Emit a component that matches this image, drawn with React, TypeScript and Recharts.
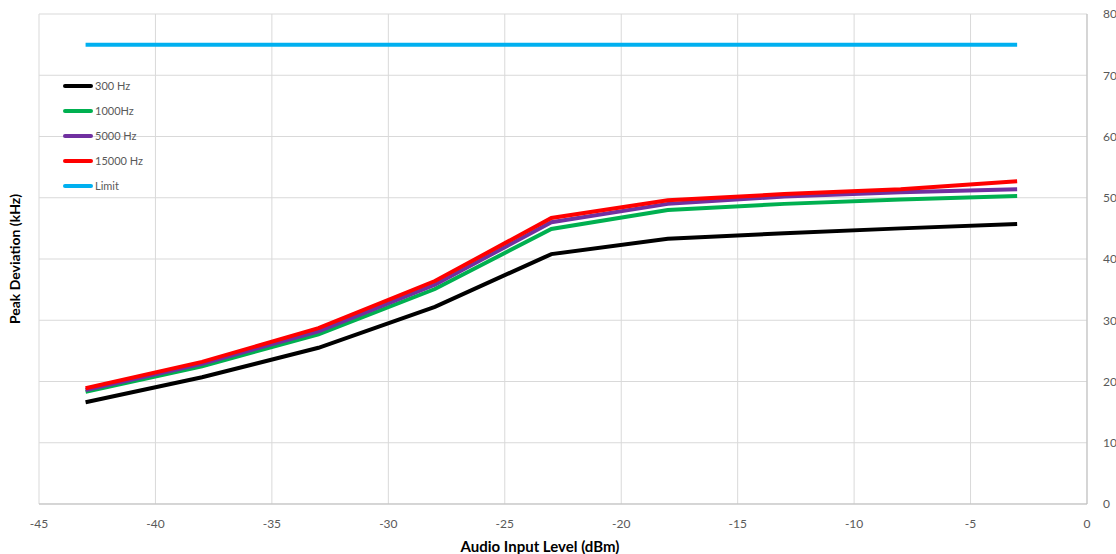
import React from "react";
import { CartesianGrid, Line, LineChart, XAxis, YAxis } from "recharts";

const levels = [-43, -38, -33, -28, -23, -18, -13, -8, -3];
const hz300 = [16.6, 20.7, 25.5, 32.2, 40.8, 43.3, 44.2, 45.0, 45.7];
const hz1000 = [18.3, 22.5, 27.7, 35.1, 44.9, 48.0, 49.0, 49.7, 50.3];
const hz5000 = [18.6, 22.9, 28.2, 35.8, 46.0, 49.0, 50.2, 50.9, 51.4];
const hz15000 = [18.9, 23.2, 28.7, 36.4, 46.7, 49.6, 50.6, 51.4, 52.7];
const limit = [75, 75, 75, 75, 75, 75, 75, 75, 75];

const xTicks = [-45, -40, -35, -30, -25, -20, -15, -10, -5, 0];
const yTicks = [0, 10, 20, 30, 40, 50, 60, 70, 80];

const series = [
	{ key: "hz300", name: "300 Hz", color: "#000000" },
	{ key: "hz1000", name: "1000Hz", color: "#00B050" },
	{ key: "hz5000", name: "5000 Hz", color: "#7030A0" },
	{ key: "hz15000", name: "15000 Hz", color: "#FF0000" },
	{ key: "limit", name: "Limit", color: "#00B0F0" },
];

const chartData = levels.map((x, i) => ({
	x,
	hz300: hz300[i],
	hz1000: hz1000[i],
	hz5000: hz5000[i],
	hz15000: hz15000[i],
	limit: limit[i],
}));

const FONT = "Lato, 'Open Sans', sans-serif";

function LegendBox() {
	return (
		<div
			style={{
				position: "absolute",
				left: 63,
				top: 73,
				fontFamily: FONT,
				fontSize: 11,
				color: "#595959",
			}}
		>
			{series.map((s) => (
				<div
					key={s.key}
					style={{ display: "flex", alignItems: "center", height: 25 }}
				>
					<span
						style={{
							display: "inline-block",
							width: 30,
							height: 4,
							borderRadius: 2,
							background: s.color,
							marginRight: 2,
						}}
					/>
					<span>{s.name}</span>
				</div>
			))}
		</div>
	);
}

export default function App() {
	return (
		<div style={{ position: "absolute", left: 0, top: 0, background: "#fff" }}>
			<LineChart
				width={1116}
				height={554}
				data={chartData}
				margin={{ top: 14, right: 0, left: 0, bottom: 0 }}
			>
				<CartesianGrid stroke="#D9D9D9" strokeWidth={1} />
				<XAxis
					dataKey="x"
					type="number"
					domain={[-45, 0]}
					ticks={xTicks}
					tickLine={false}
					axisLine={{ stroke: "#BFBFBF" }}
					tick={{ fill: "#595959", fontSize: 12, fontFamily: FONT }}
					tickMargin={9}
					height={50}
					label={{
						value: "Audio Input Level (dBm)",
						position: "insideBottom",
						dx: -23,
						offset: 2,
						style: {
							fontFamily: FONT,
							fontSize: 15,
							fontWeight: 700,
							fill: "#000",
						},
					}}
				/>
				<YAxis
					yAxisId="left"
					orientation="left"
					domain={[0, 80]}
					ticks={yTicks}
					tick={false}
					tickLine={false}
					axisLine={false}
					width={39}
					label={{
						value: "Peak Deviation (kHz)",
						angle: -90,
						position: "insideLeft",
						dx: 10,
						style: {
							fontFamily: FONT,
							fontSize: 14,
							fontWeight: 700,
							fill: "#000",
							textAnchor: "middle",
						},
					}}
				/>
				<YAxis
					orientation="right"
					domain={[0, 80]}
					ticks={yTicks}
					tickLine={false}
					axisLine={{ stroke: "#BFBFBF" }}
					tick={{ fill: "#595959", fontSize: 12, fontFamily: FONT }}
					tickMargin={10}
					width={29}
				/>
				{series.map((s) => (
					<Line
						key={s.key}
						type="linear"
						dataKey={s.key}
						name={s.name}
						stroke={s.color}
						strokeWidth={4}
						dot={false}
						isAnimationActive={false}
					/>
				))}
			</LineChart>
			<LegendBox />
		</div>
	);
}
